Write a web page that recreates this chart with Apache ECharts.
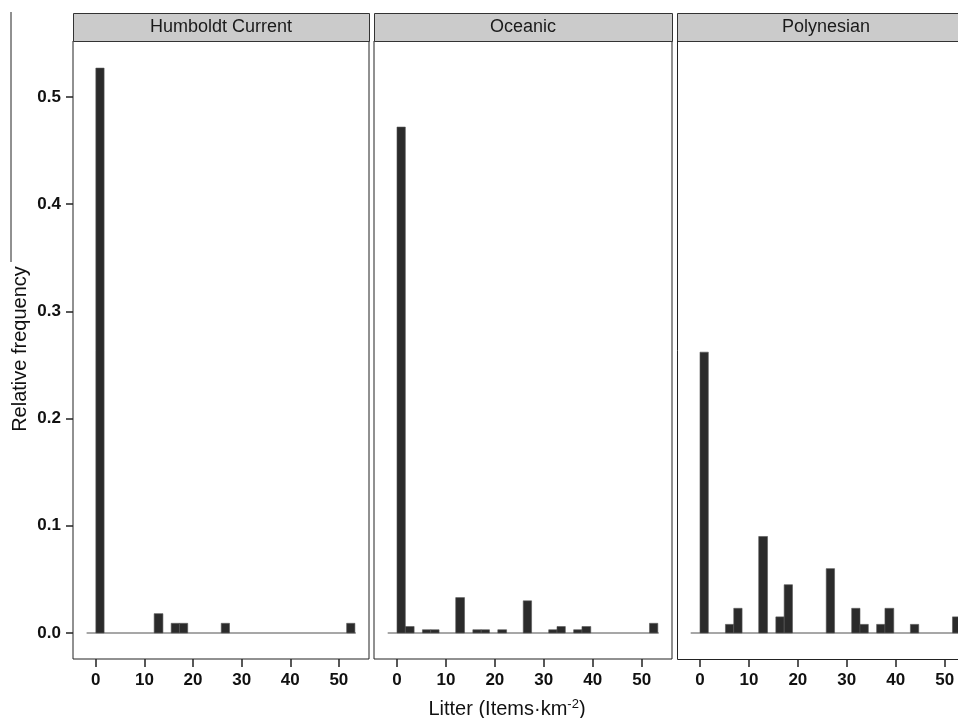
<!DOCTYPE html>
<html>
<head>
<meta charset="utf-8">
<script src="https://cdn.jsdelivr.net/npm/echarts@6/dist/echarts.min.js"></script>
<style>
  html, body { margin: 0; padding: 0; background: #fff; }
  #chart { width: 958px; height: 718px; }
</style>
</head>
<body>
<div id="chart"></div>
<script>
// histogram bin edges (Items km^-2), 31 bins
const binEdges = [0, 1.7, 3.5, 5.2, 6.9, 8.6, 10.3, 12.0, 13.8, 15.5, 17.2, 18.9, 20.6, 22.4, 24.1,
  25.8, 27.5, 29.2, 31.0, 32.7, 34.4, 36.1, 37.8, 39.6, 41.3, 43.0, 44.7, 46.4, 48.2, 49.9, 51.6, 53.3];

const regions = ['Humboldt Current', 'Oceanic', 'Polynesian'];

// relative frequency per bin
const humboldt = [0.527, 0, 0, 0, 0, 0, 0, 0.018, 0, 0.009, 0.009, 0, 0, 0, 0, 0.009,
  0, 0, 0, 0, 0, 0, 0, 0, 0, 0, 0, 0, 0, 0, 0.009];
const oceanic = [0.472, 0.006, 0, 0.003, 0.003, 0, 0, 0.033, 0, 0.003, 0.003, 0, 0.003, 0, 0, 0.030,
  0, 0, 0.003, 0.006, 0, 0.003, 0.006, 0, 0, 0, 0, 0, 0, 0, 0.009];
const polynesian = [0.262, 0, 0, 0.008, 0.023, 0, 0, 0.090, 0, 0.015, 0.045, 0, 0, 0, 0, 0.060,
  0, 0, 0.023, 0.008, 0, 0.008, 0.023, 0, 0, 0.008, 0, 0, 0, 0, 0.015];

const xTicks = [0, 10, 20, 30, 40, 50];
const yTicks = [0, 0.1, 0.2, 0.3, 0.4, 0.5];
const baseline = [[-1.9, 0], [53.5, 0]];

const panelData = [humboldt, oceanic, polynesian];
const panelLeft = [73, 374, 677];
// last panel is cut off by the right edge of the figure
const panelWidth = [296, 298, 281];
const panelXMax = [56.2, 56.2, 52.73];

const font = '"Liberation Sans", Arial, Helvetica, sans-serif';

const chart = echarts.init(document.getElementById('chart'));

const grids = [], xAxes = [], yAxes = [], series = [], graphics = [];

panelData.forEach((freq, i) => {
  const cut = i === 2;
  grids.push({
    left: panelLeft[i], top: 41, width: panelWidth[i], height: 618,
    show: true, borderColor: '#222', borderWidth: cut ? 0 : 1, backgroundColor: '#fff'
  });
  xAxes.push({
    type: 'value', gridIndex: i, min: -4.7, max: panelXMax[i],
    axisLine: { show: false, onZero: false },
    splitLine: { show: false },
    axisTick: { show: true, length: 8, customValues: xTicks, lineStyle: { color: '#222', width: 1.5 } },
    axisLabel: { customValues: xTicks, color: '#111', fontSize: 17, fontWeight: 'bold', fontFamily: font, margin: 13 }
  });
  yAxes.push({
    type: 'value', gridIndex: i, min: -0.0243, max: 0.5523,
    axisLine: { show: false, onZero: false },
    splitLine: { show: false },
    axisTick: { show: i === 0, length: 7, customValues: yTicks, lineStyle: { color: '#222', width: 1.5 } },
    axisLabel: {
      show: i === 0, customValues: yTicks, color: '#111', fontSize: 17, fontWeight: 'bold', fontFamily: font,
      margin: 12, formatter: v => v.toFixed(1)
    }
  });

  const bars = [];
  freq.forEach((f, k) => {
    if (f > 0) bars.push([binEdges[k], binEdges[k + 1], f]);
  });
  series.push({
    type: 'line', xAxisIndex: i, yAxisIndex: i, data: baseline, symbol: 'none', silent: true,
    lineStyle: { color: '#8a8a8a', width: 1.5 }, z: 1
  });
  series.push({
    type: 'custom', xAxisIndex: i, yAxisIndex: i, data: bars, z: 2,
    renderItem: function (params, api) {
      const p0 = api.coord([api.value(0), 0]);
      const p1 = api.coord([api.value(1), api.value(2)]);
      return {
        type: 'rect',
        shape: { x: p0[0], y: p1[1], width: p1[0] - p0[0], height: p0[1] - p1[1] },
        style: { fill: '#2b2b2b', stroke: '#555', lineWidth: 0.6 }
      };
    }
  });

  // strip header
  graphics.push({
    type: 'rect', left: panelLeft[i], top: 13,
    shape: { width: cut ? 300 : panelWidth[i], height: 28 },
    style: { fill: '#cbcbcb', stroke: '#333', lineWidth: 1 }
  });
  graphics.push({
    type: 'text', x: panelLeft[i] + [296, 298, 298][i] / 2, y: 27,
    style: {
      text: regions[i], fill: '#1a1a1a', font: '18px ' + font,
      textAlign: 'center', textVerticalAlign: 'middle'
    }
  });
});

// frame of the cut-off panel (no right edge)
graphics.push({
  type: 'polyline', z: 10,
  shape: { points: [[677.5, 41], [677.5, 659.5], [960, 659.5]] },
  style: { stroke: '#222', lineWidth: 1, fill: null }
});

graphics.push({
  type: 'text', x: 507, y: 709,
  style: {
    text: '{a|Litter (Items·km}{s|-2}{a|)}',
    textAlign: 'center', textVerticalAlign: 'middle',
    rich: {
      a: { fontSize: 20, fontFamily: font, fill: '#111' },
      s: { fontSize: 13, fontFamily: font, fill: '#111', verticalAlign: 'top', padding: [0, 0, 9, 0] }
    }
  }
});
graphics.push({
  type: 'text', x: 20, y: 349, rotation: Math.PI / 2,
  style: {
    text: 'Relative frequency', fill: '#111', font: '20px ' + font,
    textAlign: 'center', textVerticalAlign: 'middle'
  }
});
graphics.push({
  type: 'line', shape: { x1: 11, y1: 12, x2: 11, y2: 262 },
  style: { stroke: '#222', lineWidth: 1 }
});

chart.setOption({
  animation: false,
  backgroundColor: '#fff',
  grid: grids,
  xAxis: xAxes,
  yAxis: yAxes,
  series: series,
  graphic: graphics
});
</script>
</body>
</html>
